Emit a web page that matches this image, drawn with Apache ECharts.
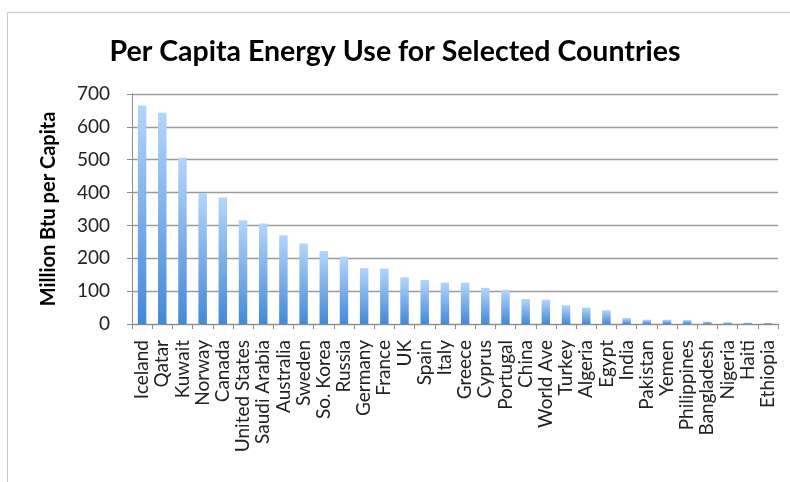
<!DOCTYPE html>
<html>
<head>
<meta charset="utf-8">
<script src="https://cdn.jsdelivr.net/npm/echarts@6/dist/echarts.min.js"></script>
<style>
html,body{margin:0;padding:0;background:#fff;}
#frame{position:absolute;left:7px;top:12px;width:800px;height:500px;border-left:1.5px solid #c8c8c8;border-top:1.5px solid #c8c8c8;}
#chart{position:absolute;left:0;top:0;width:790px;height:482px;}
</style>
</head>
<body>
<div id="frame"></div>
<div id="chart"></div>
<script>
const countries = ["Iceland","Qatar","Kuwait","Norway","Canada","United States","Saudi Arabia","Australia","Sweden","So. Korea","Russia","Germany","France","UK","Spain","Italy","Greece","Cyprus","Portugal","China","World Ave","Turkey","Algeria","Egypt","India","Pakistan","Yemen","Philippines","Bangladesh","Nigeria","Haiti","Ethiopia"];
const energyUse = [665,643,506,398,385,316,306,270,245,222,205,170,169,142,134,126,126,110,104,76,74,57,50,42,18,13,13,12,7,5,4,3];
const yTicks = [0,100,200,300,400,500,600,700];

const chart = echarts.init(document.getElementById('chart'), null, {renderer:'canvas'});
const font = 'Lato, "Open Sans", sans-serif';
chart.setOption({
  backgroundColor: 'transparent',
  animation: false,
  title: {
    text: 'Per Capita Energy Use for Selected Countries',
    left: 'center',
    top: 32,
    textStyle: {fontFamily: font, fontSize: 28.5, fontWeight: 'bold', color: '#000'}
  },
  grid: {left: 132, right: 12, top: 94, bottom: 158, containLabel: false},
  xAxis: {
    type: 'category',
    data: countries,
    axisLine: {show: true, lineStyle: {color: '#8c8c8c', width: 1}},
    axisTick: {show: true, length: 5, lineStyle: {color: '#8c8c8c'}},
    axisLabel: {interval: 0, rotate: 90, margin: 16, fontFamily: font, fontSize: 19, color: '#222'},
    splitLine: {show: false}
  },
  yAxis: {
    type: 'value',
    min: yTicks[0],
    max: yTicks[yTicks.length - 1],
    interval: 100,
    name: 'Million Btu per Capita',
    nameLocation: 'middle',
    nameRotate: 90,
    nameGap: 73,
    nameTextStyle: {fontFamily: font, fontSize: 20, fontWeight: 'bold', color: '#000'},
    axisLine: {show: true, lineStyle: {color: '#8c8c8c', width: 1}},
    axisTick: {show: true, length: 5, inside: false, lineStyle: {color: '#8c8c8c'}},
    axisLabel: {margin: 22, fontFamily: font, fontSize: 19, color: '#222'},
    splitLine: {show: true, lineStyle: {color: '#9a9a9a', width: 1.3}}
  },
  series: [{
    type: 'bar',
    data: energyUse,
    barWidth: '42%',
    itemStyle: {
      color: new echarts.graphic.LinearGradient(0, 0, 0, 1, [
        {offset: 0, color: '#b4d5fb'},
        {offset: 1, color: '#4389d6'}
      ])
    }
  }]
});
</script>
</body>
</html>
